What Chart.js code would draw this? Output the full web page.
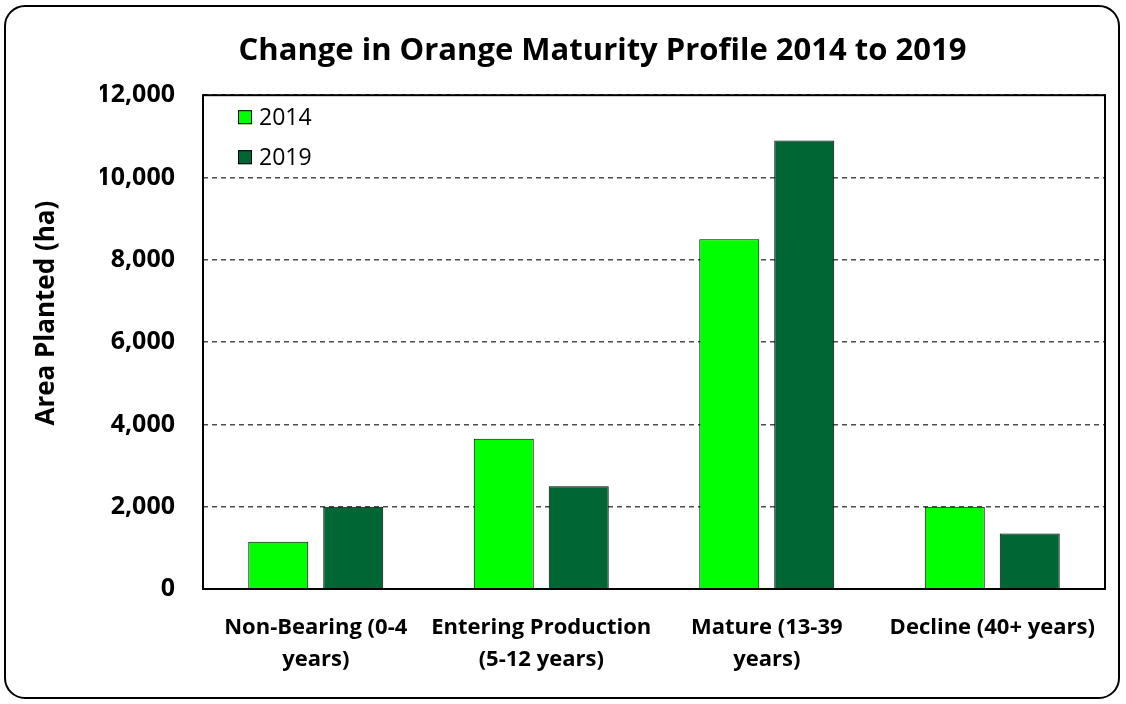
<!DOCTYPE html>
<html>
<head>
<meta charset="utf-8">
<script src="https://cdn.jsdelivr.net/npm/chart.js@4/dist/chart.umd.min.js"></script>
<style>
  html, body { margin: 0; padding: 0; background: #fff; }
  #wrap { position: relative; width: 1126px; height: 704px; }
</style>
</head>
<body>
<div id="wrap"><canvas id="chart" width="1126" height="704"></canvas></div>
<script>
// data
var categories = [
    ['Non-Bearing (0-4', 'years)'],
    ['Entering Production', '(5-12 years)'],
    ['Mature (13-39', 'years)'],
    ['Decline (40+ years)']
];
var series_labels = ['2014', '2019'];
var area_2014 = [1150, 3650, 8500, 2000];
var area_2019 = [2000, 2500, 10900, 1350];
var y_ticks = [0, 2000, 4000, 6000, 8000, 10000, 12000];

var title_text = 'Change in Orange Maturity Profile 2014 to 2019';
var y_title_text = 'Area Planted (ha)';

Chart.defaults.font.family = "'Open Sans', 'DejaVu Sans', sans-serif";
Chart.defaults.color = '#000';

// outer rounded frame
var framePlugin = {
    id: 'frame',
    beforeDraw: function (chart) {
        var ctx = chart.ctx;
        ctx.save();
        ctx.fillStyle = '#fff';
        ctx.fillRect(0, 0, chart.width, chart.height);
        ctx.beginPath();
        ctx.roundRect(5, 6, 1114, 692, 20);
        ctx.lineWidth = 2;
        ctx.strokeStyle = '#000';
        ctx.stroke();
        ctx.restore();
    },
    afterDatasetsDraw: function (chart) {
        // plot area border
        var a = chart.chartArea;
        var ctx = chart.ctx;
        ctx.save();
        ctx.lineWidth = 2;
        ctx.strokeStyle = '#000';
        ctx.strokeRect(a.left, a.top, a.right - a.left, a.bottom - a.top);
        ctx.restore();
    }
};

// legend inside the plot, stacked, top-left
var insideLegend = {
    id: 'insideLegend',
    afterDraw: function (chart) {
        var a = chart.chartArea;
        var ctx = chart.ctx;
        ctx.save();
        ctx.font = "23px 'Open Sans'";
        ctx.textBaseline = 'middle';
        ctx.textAlign = 'left';
        chart.data.datasets.forEach(function (ds, i) {
            var x = a.left + 35;
            var y = a.top + 15 + i * 40;
            ctx.fillStyle = ds.backgroundColor;
            ctx.fillRect(x, y, 14, 14);
            ctx.lineWidth = 1;
            ctx.strokeStyle = '#000';
            ctx.strokeRect(x + 0.5, y + 0.5, 13, 13);
            ctx.fillStyle = '#000';
            ctx.fillText(ds.label, x + 21, y + 8);
        });
        ctx.restore();
    }
};

// y axis title, sits a bit above the plot's middle like the original
var yTitle = {
    id: 'yTitle',
    afterDraw: function (chart) {
        var a = chart.chartArea;
        var ctx = chart.ctx;
        ctx.save();
        ctx.translate(47, (a.top + a.bottom) / 2 - 29);
        ctx.rotate(-Math.PI / 2);
        ctx.font = "bold 26px 'Open Sans'";
        ctx.textAlign = 'center';
        ctx.textBaseline = 'middle';
        ctx.fillStyle = '#000';
        ctx.fillText(y_title_text, 0, 0);
        ctx.restore();
    }
};

var ctx = document.getElementById('chart');
var chartData = {
    labels: categories,
    datasets: [{
        label: series_labels[0],
        data: area_2014,
        backgroundColor: '#00ff00',
        borderColor: '#000',
        borderWidth: 1,
    }, {
        label: series_labels[1],
        data: area_2019,
        backgroundColor: '#006633',
        borderColor: '#000',
        borderWidth: 1,
    }]
};

var myChart = new Chart(ctx, {
    type: 'bar',
    data: chartData,
    plugins: [framePlugin, insideLegend, yTitle],
    options: {
        responsive: false,
        animation: false,
        // left padding pushes the title centre over to where the original has it
        layout: { padding: { top: 33, right: 21, bottom: 0, left: 100 } },
        datasets: {
            bar: { categoryPercentage: 0.665, barPercentage: 0.8 }
        },
        plugins: {
            legend: { display: false },
            tooltip: { enabled: false },
            title: {
                display: true,
                text: title_text,
                font: { size: 31, weight: 'bold' },
                color: '#000',
                padding: { top: 0, bottom: 25 }
            }
        },
        scales: {
            x: {
                grid: { display: false },
                border: { display: false },
                ticks: {
                    font: { size: 22, weight: 'bold', lineHeight: 1.48 },
                    color: '#000',
                    padding: 14,
                    maxRotation: 0,
                    autoSkip: false
                },
                afterFit: function (scale) { scale.height = 115; }
            },
            y: {
                min: 0,
                max: 12000,
                afterBuildTicks: function (scale) {
                    scale.ticks = y_ticks.map(function (v) { return { value: v }; });
                },
                grid: { color: '#4d4d4d', lineWidth: 1.5, drawTicks: false },
                border: { display: false, dash: [5, 4] },
                ticks: {
                    font: { size: 25, weight: 'bold' },
                    color: '#000',
                    padding: 28,
                    callback: function (v) { return v.toLocaleString('en-US'); }
                },
                afterFit: function (scale) { scale.width = 103; }
            }
        }
    }
});
</script>
</body>
</html>
